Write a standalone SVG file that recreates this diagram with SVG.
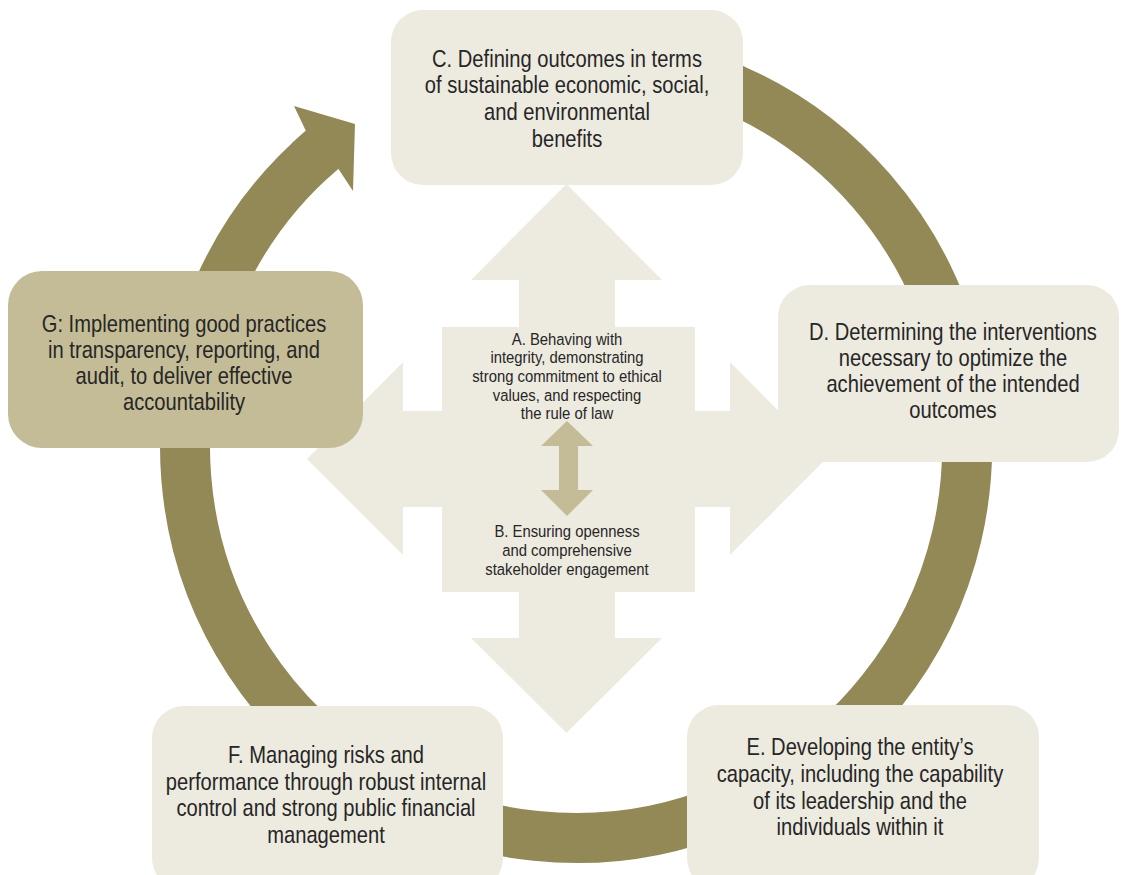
<svg xmlns="http://www.w3.org/2000/svg" width="1126" height="875" viewBox="0 0 1126 875">
  <style>
    .box { fill: #EDEAE0; }
    .box-dark { fill: #C4BC96; }
    .lbl { font-family: "Liberation Sans", Arial, sans-serif; font-size: 24px; fill: #262626; text-anchor: middle; }
    .lbl-sm { font-family: "Liberation Sans", Arial, sans-serif; font-size: 16.5px; fill: #262626; text-anchor: middle; }
  </style>
  <rect width="1126" height="875" fill="#FFFFFF"/>

  <!-- clockwise cycle ring ending in an arrowhead -->
  <g id="connectors">
    <path d="M 542 57.5 A 391 391 0 1 1 322.1 149.7" fill="none" stroke="#938957" stroke-width="50"/>
    <polygon points="292.3,142.7 305.8,130.7 294,106 355,124 353,191 338.3,168.7 326.4,179.3" fill="#938957"/>
  </g>

  <!-- central four-way arrow with the small two-way arrow between A and B -->
  <g id="cross">
    <polygon class="box" points="566.5,184 662,280 615,280 615,327 695,327 695,411 730,411 730,362 826,459 730,555 730,507 695,507 695,592 615,592 615,638 662,638 566.5,733 471,638 519,638 519,592 442,592 442,507 403,507 403,555 307,459 403,362 403,411 442,411 442,327 519,327 519,280 471,280"/>
    <polygon fill="#C4BC96" points="567,421 593,446 578,446 578,490 593,490 567,516 541,490 559,490 559,446 541,446"/>
  </g>

  <!-- labels are narrowed horizontally to a condensed face -->
  <g id="node-a" transform="translate(567 0) scale(0.9 1)">
    <text class="lbl-sm" x="0" y="345">A. Behaving with</text>
    <text class="lbl-sm" x="0" y="363.5">integrity, demonstrating</text>
    <text class="lbl-sm" x="0" y="382">strong commitment to ethical</text>
    <text class="lbl-sm" x="0" y="401">values, and respecting</text>
    <text class="lbl-sm" x="0" y="419.5">the rule of law</text>
  </g>

  <g id="node-b" transform="translate(567 0) scale(0.9 1)">
    <text class="lbl-sm" x="0" y="537.5">B. Ensuring openness</text>
    <text class="lbl-sm" x="0" y="556.5">and comprehensive</text>
    <text class="lbl-sm" x="0" y="575.5">stakeholder engagement</text>
  </g>

  <g id="node-c">
    <rect class="box" x="391" y="10" width="352" height="175" rx="32"/>
    <g transform="translate(567 0) scale(0.84 1)">
      <text class="lbl" x="0" y="66.7">C. Defining outcomes in terms</text>
      <text class="lbl" x="0" y="93.3">of sustainable economic, social,</text>
      <text class="lbl" x="0" y="120">and environmental</text>
      <text class="lbl" x="0" y="146.7">benefits</text>
    </g>
  </g>

  <g id="node-d">
    <rect class="box" x="778" y="285" width="341" height="177" rx="32"/>
    <g transform="translate(953 0) scale(0.84 1)">
      <text class="lbl" x="0" y="340">D. Determining the interventions</text>
      <text class="lbl" x="0" y="366.5">necessary to optimize the</text>
      <text class="lbl" x="0" y="392.5">achievement of the intended</text>
      <text class="lbl" x="0" y="418.5">outcomes</text>
    </g>
  </g>

  <g id="node-e">
    <rect class="box" x="687" y="705" width="352" height="185" rx="32"/>
    <g transform="translate(860 0) scale(0.84 1)">
      <text class="lbl" x="0" y="755.5">E. Developing the entity’s</text>
      <text class="lbl" x="0" y="782.5">capacity, including the capability</text>
      <text class="lbl" x="0" y="809">of its leadership and the</text>
      <text class="lbl" x="0" y="835.5">individuals within it</text>
    </g>
  </g>

  <g id="node-f">
    <rect class="box" x="152" y="706" width="351" height="184" rx="32"/>
    <g transform="translate(326 0) scale(0.84 1)">
      <text class="lbl" x="0" y="763.5">F. Managing risks and</text>
      <text class="lbl" x="0" y="790">performance through robust internal</text>
      <text class="lbl" x="0" y="816.5">control and strong public financial</text>
      <text class="lbl" x="0" y="843">management</text>
    </g>
  </g>

  <g id="node-g">
    <rect class="box-dark" x="8" y="271" width="355" height="177" rx="34"/>
    <g transform="translate(184 0) scale(0.84 1)">
      <text class="lbl" x="0" y="332">G: Implementing good practices</text>
      <text class="lbl" x="0" y="358">in transparency, reporting, and</text>
      <text class="lbl" x="0" y="384">audit, to deliver effective</text>
      <text class="lbl" x="0" y="410">accountability</text>
    </g>
  </g>
</svg>
